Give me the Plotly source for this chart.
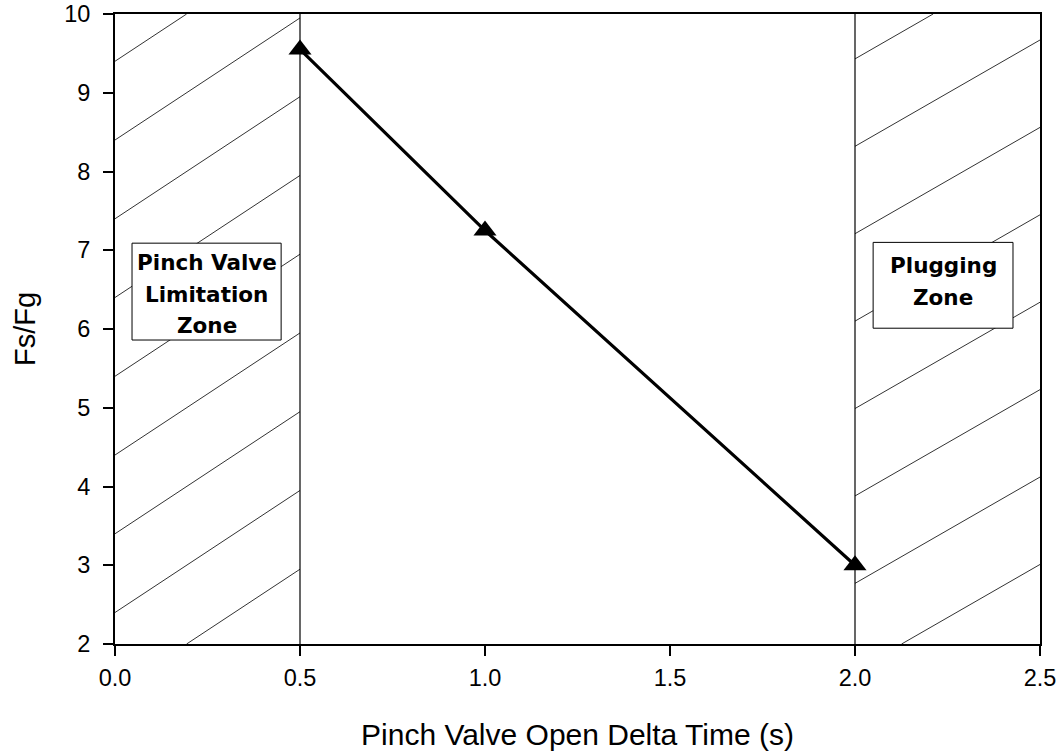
import plotly.graph_objects as go

# ---- data ----
delta_time = [0.5, 1.0, 2.0]          # Pinch valve open delta time (s)
fs_fg = [9.55, 7.25, 3.0]             # Fs/Fg

x_tick_vals = [0.0, 0.5, 1.0, 1.5, 2.0, 2.5]
x_tick_text = ["0.0", "0.5", "1.0", "1.5", "2.0", "2.5"]
y_tick_vals = [2, 3, 4, 5, 6, 7, 8, 9, 10]
y_tick_text = ["2", "3", "4", "5", "6", "7", "8", "9", "10"]

zone_bounds = [(0.0, 0.5), (2.0, 2.5)]
zone_lines = [["Pinch Valve", "Limitation", "Zone"], ["Plugging", "Zone"]]

X_RANGE = (0.0, 2.5)
Y_RANGE = (2.0, 10.0)

# hatch style per zone: (top intercept at zone left edge, spacing, slope)
hatch_style = [(9.4, 1.0, 3.1), (9.43, 1.11, 2.7)]
# label boxes per zone (x0, x1, y0, y1) and text line y positions
box_geom = [(0.046, 0.449, 5.86, 7.09), (2.049, 2.427, 6.01, 7.10)]
text_y = [[6.85, 6.44, 6.04], [6.81, 6.40]]

fig = go.Figure()

shapes = []
# hatching
for (zx0, zx1), (top_c, step, slope) in zip(zone_bounds, hatch_style):
    c = top_c
    while c + slope * (zx1 - zx0) > Y_RANGE[0]:
        xa, xb = zx0, zx1
        ya, yb = c, c + slope * (zx1 - zx0)
        if ya < Y_RANGE[0]:
            xa = zx0 + (Y_RANGE[0] - c) / slope
            ya = Y_RANGE[0]
        if yb > Y_RANGE[1]:
            xb = zx0 + (Y_RANGE[1] - c) / slope
            yb = Y_RANGE[1]
        if xb > xa:
            shapes.append(dict(type="line", xref="x", yref="y", x0=xa, x1=xb, y0=ya, y1=yb,
                               line=dict(color="#333333", width=1), layer="below"))
        c -= step

# zone boundary verticals
for zx0, zx1 in zone_bounds:
    for xv in (zx0, zx1):
        if X_RANGE[0] < xv < X_RANGE[1]:
            shapes.append(dict(type="line", xref="x", yref="y", x0=xv, x1=xv,
                               y0=Y_RANGE[0], y1=Y_RANGE[1],
                               line=dict(color="black", width=1.2), layer="below"))

# label boxes
annotations = []
for (bx0, bx1, by0, by1), lines, ys in zip(box_geom, zone_lines, text_y):
    shapes.append(dict(type="rect", xref="x", yref="y", x0=bx0, x1=bx1, y0=by0, y1=by1,
                       fillcolor="white", line=dict(color="black", width=1), layer="below"))
    for t, yy in zip(lines, ys):
        annotations.append(dict(x=(bx0 + bx1) / 2, y=yy, xref="x", yref="y", text=t,
                                showarrow=False, xanchor="center", yanchor="middle",
                                font=dict(family="DejaVu Sans", size=21.5, color="black",
                                          weight="bold")))

fig.add_trace(go.Scatter(
    x=delta_time, y=fs_fg, mode="lines+markers",
    line=dict(color="black", width=3.2),
    marker=dict(symbol="triangle-up", size=20, color="black"),
    showlegend=False, cliponaxis=False,
))

axis_common = dict(
    showline=True, linecolor="black", linewidth=2, mirror=True,
    ticks="outside", ticklen=10, tickwidth=2, tickcolor="black",
    showgrid=False, zeroline=False, automargin=False,
    tickfont=dict(family="Liberation Sans, Arial", size=23.5, color="black"),
)

fig.update_layout(
    width=1063, height=751,
    margin=dict(l=115, r=23, t=14, b=107),
    paper_bgcolor="white", plot_bgcolor="white",
    shapes=shapes, annotations=annotations,
    xaxis=dict(range=list(X_RANGE), tickvals=x_tick_vals, ticktext=x_tick_text,
               ticklabelstandoff=2,
               title=dict(text="Pinch Valve Open Delta Time (s)", standoff=34,
                          font=dict(family="Liberation Sans, Arial", size=30, color="black")),
               **axis_common),
    yaxis=dict(range=list(Y_RANGE), tickvals=y_tick_vals, ticktext=y_tick_text,
               ticklabelstandoff=8,
               title=dict(text="Fs/Fg", standoff=20,
                          font=dict(family="Liberation Sans, Arial", size=29, color="black")),
               **axis_common),
)

fig.write_html("out.html")
